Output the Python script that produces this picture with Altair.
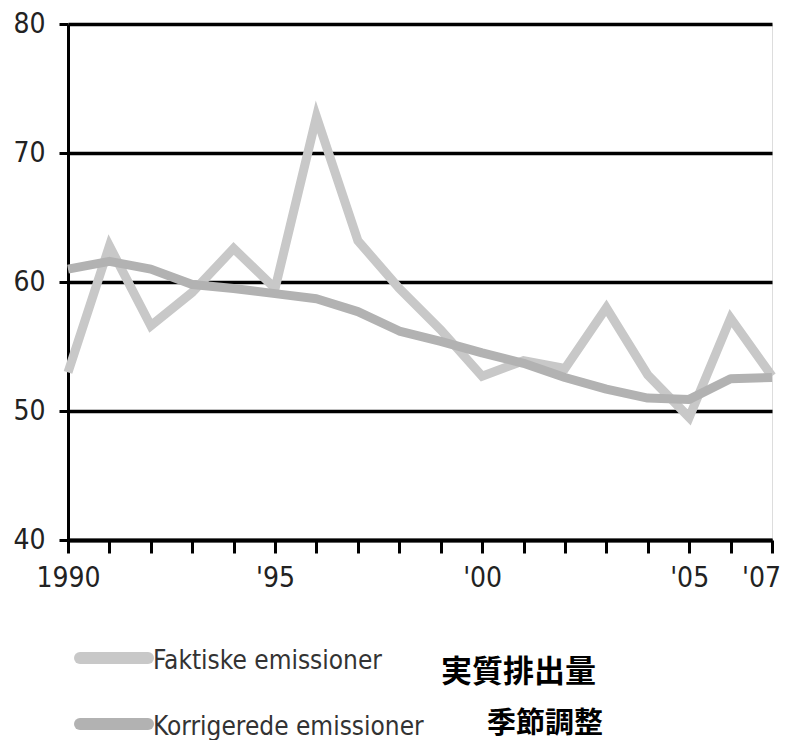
import altair as alt
import pandas as pd

years = list(range(1990, 2008))
faktiske = [53.0, 62.8, 56.6, 59.2, 62.6, 59.5, 72.8, 63.2, 59.5, 56.3, 52.7,
            53.9, 53.3, 58.0, 52.8, 49.5, 57.2, 52.7]
korrigerede = [61.0, 61.6, 61.0, 59.8, 59.5, 59.1, 58.7, 57.7, 56.2, 55.4, 54.5,
               53.7, 52.6, 51.7, 51.0, 50.9, 52.5, 52.6]
series_names = ["Faktiske emissioner", "Korrigerede emissioner"]
jp_names = ["実質排出量", "季節調整"]
colors = ["#c8c8c8", "#b2b2b2"]
y_ticks = [40, 50, 60, 70, 80]

df = pd.DataFrame({
    "year": years * 2,
    "value": faktiske + korrigerede,
    "series": [series_names[0]] * len(years) + [series_names[1]] * len(years),
})

FONT = "DejaVu Sans Condensed, Liberation Sans Narrow, DejaVu Sans"

label_expr = ("datum.value == 1990 ? '1990' : datum.value == 1995 ? \"'95\" : "
              "datum.value == 2000 ? \"'00\" : datum.value == 2005 ? \"'05\" : "
              "datum.value == 2007 ? \"'07\" : ''")

x = alt.X("year:Q", scale=alt.Scale(domain=[1990, 2007], nice=False, zero=False),
          axis=alt.Axis(values=years, labelExpr=label_expr, title=None, grid=False,
                        domainColor="black", domainWidth=4, tickColor="black",
                        tickWidth=3, tickSize=13, labelFontSize=28, labelFont=FONT,
                        labelColor="#222", labelPadding=11, labelFlush=False,
                        labelOverlap=False,
                        labelOffset={"condition": {"test": "datum.value == 2007",
                                                   "value": -11},
                                     "value": 0}))
y = alt.Y("value:Q", scale=alt.Scale(domain=[40, 80], nice=False, zero=False),
          axis=alt.Axis(values=y_ticks, title=None, grid=True, gridColor="black",
                        gridWidth=3.5, gridOpacity=1, domainColor="black",
                        domainWidth=3, tickColor="black", tickWidth=3, tickSize=9,
                        labelFontSize=28, labelFont=FONT, labelColor="#222",
                        labelPadding=14))

fak = alt.Chart(df[df.series == series_names[0]]).mark_line(
    strokeWidth=9, strokeJoin="miter", color=colors[0]).encode(x=x, y=y)
kor = alt.Chart(df[df.series == series_names[1]]).mark_line(
    strokeWidth=9, strokeJoin="round", color=colors[1]).encode(x=x, y=y)

leg_df = pd.DataFrame({"series": series_names, "jp": jp_names, "color": colors,
                       "row": [0, 1]})

legend_layers = []
row_y = [634, 700]
for i in range(2):
    d = leg_df[leg_df.row == i]
    legend_layers.append(
        alt.Chart(d).mark_rule(strokeWidth=12, strokeCap="round", color=colors[i]).encode(
            x=alt.value(12), x2=alt.value(80), y=alt.value(row_y[i])))
    legend_layers.append(
        alt.Chart(d).mark_text(align="left", baseline="middle", fontSize=26,
                               font=FONT, color="#333").encode(
            x=alt.value(85), y=alt.value(row_y[i] + 3), text="series:N"))
jp_x = [373, 419]
jp_y = [649, 700]
jp_size = [31, 29]
for i in range(2):
    d = leg_df[leg_df.row == i]
    legend_layers.append(
        alt.Chart(d).mark_text(align="left", baseline="middle", fontSize=jp_size[i],
                               fontWeight="bold", font="Noto Sans CJK JP",
                               color="black").encode(
            x=alt.value(jp_x[i]), y=alt.value(jp_y[i]), text="jp:N"))

chart = alt.layer(fak, kor, *legend_layers).properties(
    width=704, height=516,
    autosize=alt.AutoSizeParams(type="none"),
    padding={"left": 60, "top": 16, "right": 12, "bottom": 200},
).configure_view(stroke=None).configure(background="white")

chart.save("out.html", embed_options={"renderer": "svg", "actions": False})
